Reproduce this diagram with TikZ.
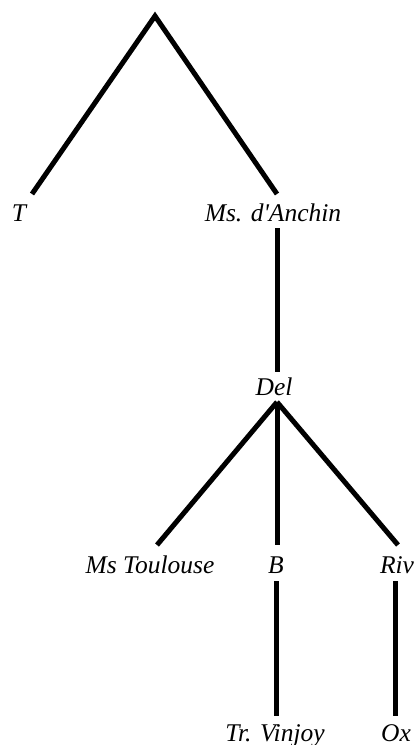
\documentclass[tikz,border=0pt]{standalone}
\usepackage{fontspec}
\setmainfont{Liberation Serif}[Ligatures=TeXOff]
\usetikzlibrary{calc}
\tikzset{
  lbl/.style={anchor=base, inner sep=0pt, font=\fontsize{25.5}{25.5}\selectfont\itshape},
  edge/.style={line width=5pt, black}
}
\begin{document}
\begin{tikzpicture}[x=1pt, y=-1pt]
\useasboundingbox[fill=white] (0,0) rectangle (416,745);
\coordinate (apex) at (155,16);
\node[lbl] (T) at (19,221) {T};
\node[lbl] (anchin) at (273,221) {Ms. d'Anchin};
\node[lbl] (del) at (274,395) {Del};
\node[lbl] (ms) at (150,573) {Ms Toulouse};
\node[lbl] (B) at (276,573) {B};
\node[lbl] (riv) at (397,573) {Riv};
\node[lbl] (tr) at (275,741) {Tr. Vinjoy};
\node[lbl] (ox) at (396,741) {Ox};
\draw[edge, line join=miter] ($(T.base)+(13,-27)$) -- (apex) -- ($(anchin.base)+(4,-27)$);
\draw[edge] ($(anchin.base)+(4,7)$) -- ($(del.base)+(3,-23)$);
\draw[edge] ($(del.base)+(3,7)$) -- ($(ms.base)+(7,-28)$);
\draw[edge] ($(del.base)+(3,7)$) -- ($(B.base)+(1,-28)$);
\draw[edge] ($(del.base)+(3,7)$) -- ($(riv.base)+(1,-28)$);
\draw[edge] ($(B.base)+(0,8)$) -- ($(tr.base)+(1,-25)$);
\draw[edge] ($(riv.base)+(-2,8)$) -- ($(ox.base)+(-1,-25)$);
\end{tikzpicture}
\end{document}
